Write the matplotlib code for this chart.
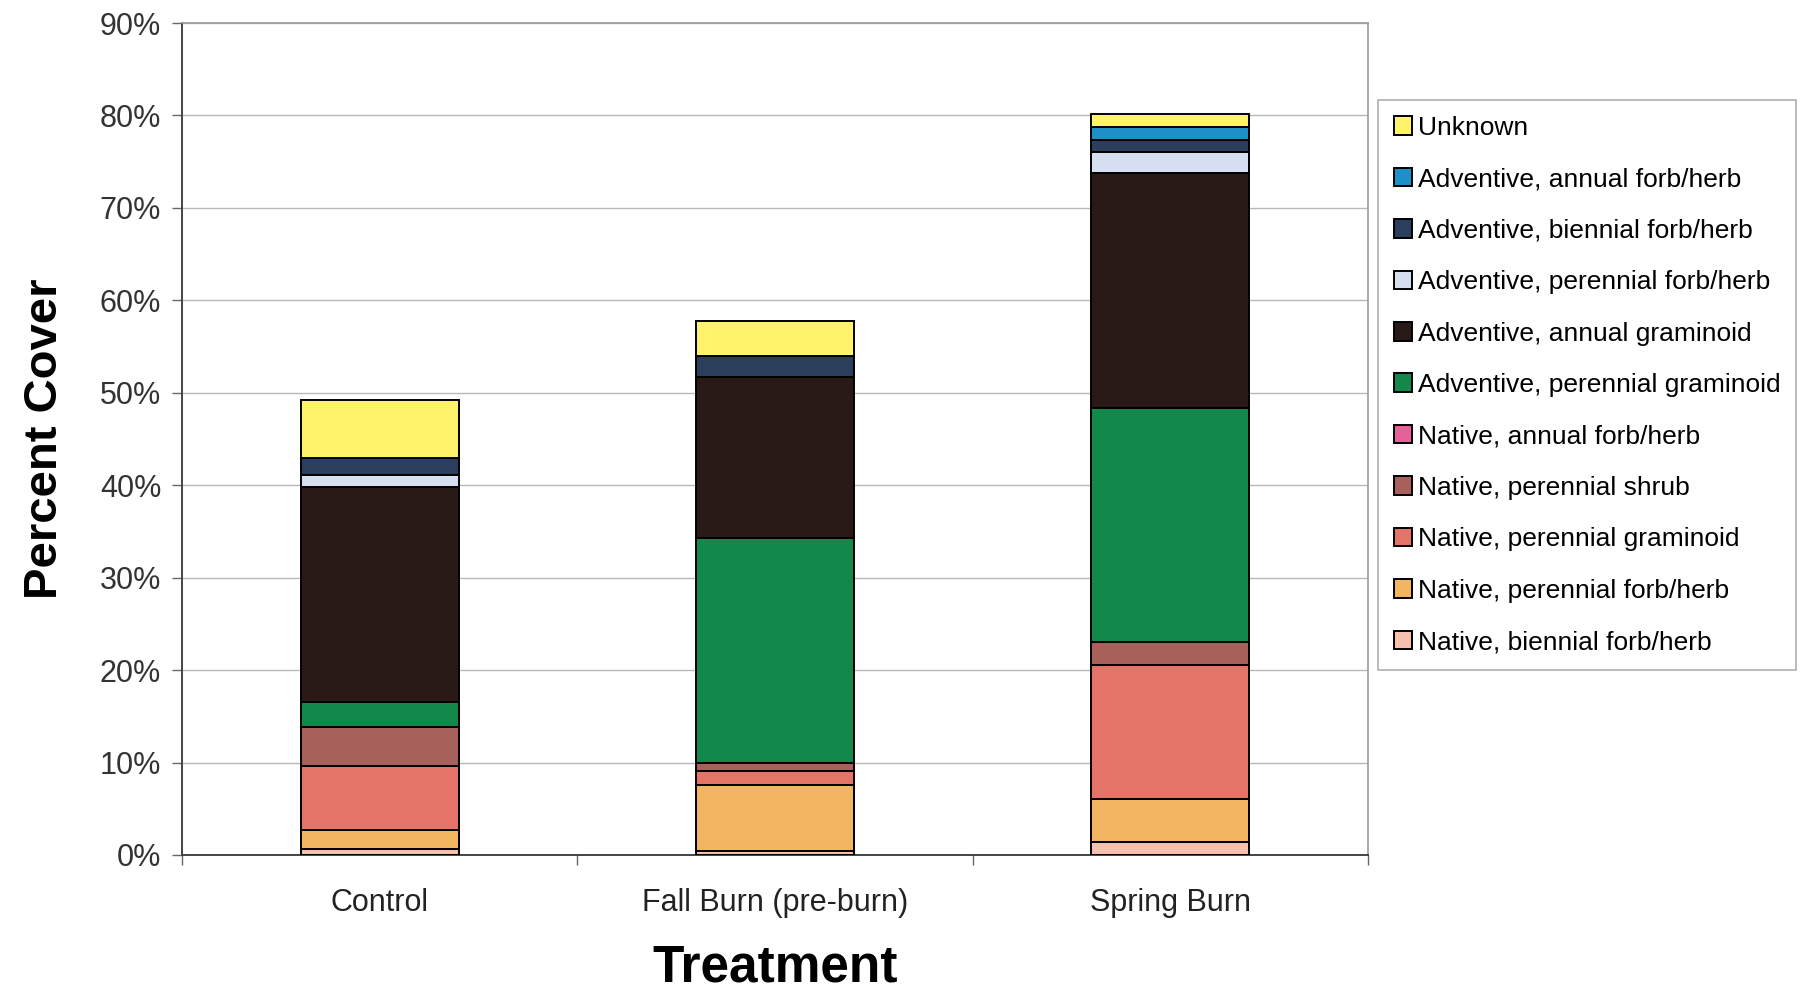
import numpy as np
import matplotlib.pyplot as plt

plt.rcParams['font.family'] = ['Liberation Sans', 'DejaVu Sans']

treatments = ['Control', 'Fall Burn (pre-burn)', 'Spring Burn']

# stacking order, bottom to top (values in % cover)
groups = ['Native, biennial forb/herb',
          'Native, perennial forb/herb',
          'Native, perennial graminoid',
          'Native, perennial shrub',
          'Native, annual forb/herb',
          'Adventive, perennial graminoid',
          'Adventive, annual graminoid',
          'Adventive, perennial forb/herb',
          'Adventive, biennial forb/herb',
          'Adventive, annual forb/herb',
          'Unknown']

native_biennial_forb = [0.6, 0.4, 1.4]
native_perennial_forb = [2.1, 7.2, 4.65]
native_perennial_gram = [6.9, 1.5, 14.45]
native_perennial_shrub = [4.2, 0.8, 2.5]
native_annual_forb = [0.0, 0.0, 0.0]
adv_perennial_gram = [2.7, 24.4, 25.4]
adv_annual_gram = [23.3, 17.4, 25.4]
adv_perennial_forb = [1.3, 0.0, 2.2]
adv_biennial_forb = [1.8, 2.3, 1.4]
adv_annual_forb = [0.0, 0.0, 1.4]
unknown = [6.3, 3.8, 1.4]

colors = ['#F3C1AE', '#F2B661', '#E57468', '#A8605A', '#E8609A',
          '#12884B', '#2A1A17', '#D6DFF0', '#2B3F5C', '#1E90C8', '#FFF36B']

series = [native_biennial_forb, native_perennial_forb, native_perennial_gram,
          native_perennial_shrub, native_annual_forb, adv_perennial_gram,
          adv_annual_gram, adv_perennial_forb, adv_biennial_forb,
          adv_annual_forb, unknown]

fig = plt.figure(figsize=(18.06, 9.89), dpi=100)
ax = fig.add_axes([0.1008, 0.1355, 0.6567, 0.8412])

x = np.arange(len(treatments))
bottom = np.zeros(len(treatments))
handles = []
for name, vals, c in zip(groups, series, colors):
    vals = np.array(vals) / 100.0
    b = ax.bar(x, vals, 0.40, bottom=bottom, color=c, edgecolor='black',
               linewidth=1.4, label=name, zorder=3)
    handles.append(b)
    bottom += vals

ax.set_xlim(-0.5, 2.5)
ax.set_ylim(0, 0.9)
ax.set_yticks(np.arange(0, 0.91, 0.1))
ax.set_yticklabels([f'{int(round(v*100))}%' for v in np.arange(0, 0.91, 0.1)])
ax.yaxis.grid(True, color='#b8b8b8', linewidth=1.0, zorder=0)
ax.set_axisbelow(True)

ax.set_xticks(x)
ax.set_xticklabels(treatments)
ax.set_xticks([-0.5, 0.5, 1.5, 2.5], minor=True)
ax.tick_params(axis='x', which='major', length=0, pad=24, labelsize=22, colors='#222222')
ax.tick_params(axis='x', which='minor', length=7, width=1, color='#666666')
ax.tick_params(axis='y', length=7, width=1, color='#666666', labelsize=22,
               labelcolor='#333333', pad=8)

for side in ['left', 'bottom']:
    ax.spines[side].set_color('#444444')
    ax.spines[side].set_linewidth(1.4)
for side in ['top', 'right']:
    ax.spines[side].set_color('#9a9a9a')
    ax.spines[side].set_linewidth(1.2)

ax.set_ylabel('Percent Cover', fontsize=34, fontweight='bold', labelpad=24)
ax.set_xlabel('Treatment', fontsize=37, fontweight='bold', labelpad=18)

leg = fig.legend(handles[::-1], groups[::-1], loc='upper left',
                 bbox_to_anchor=(0.763, 0.899), fontsize=19,
                 frameon=True, fancybox=False, edgecolor='#9a9a9a',
                 handlelength=0.7, handleheight=0.7, handletextpad=0.2,
                 labelspacing=1.04, borderpad=0.6, borderaxespad=0)
leg.get_frame().set_linewidth(1.2)

plt.savefig('out.png', dpi=100)
plt.close(fig)
